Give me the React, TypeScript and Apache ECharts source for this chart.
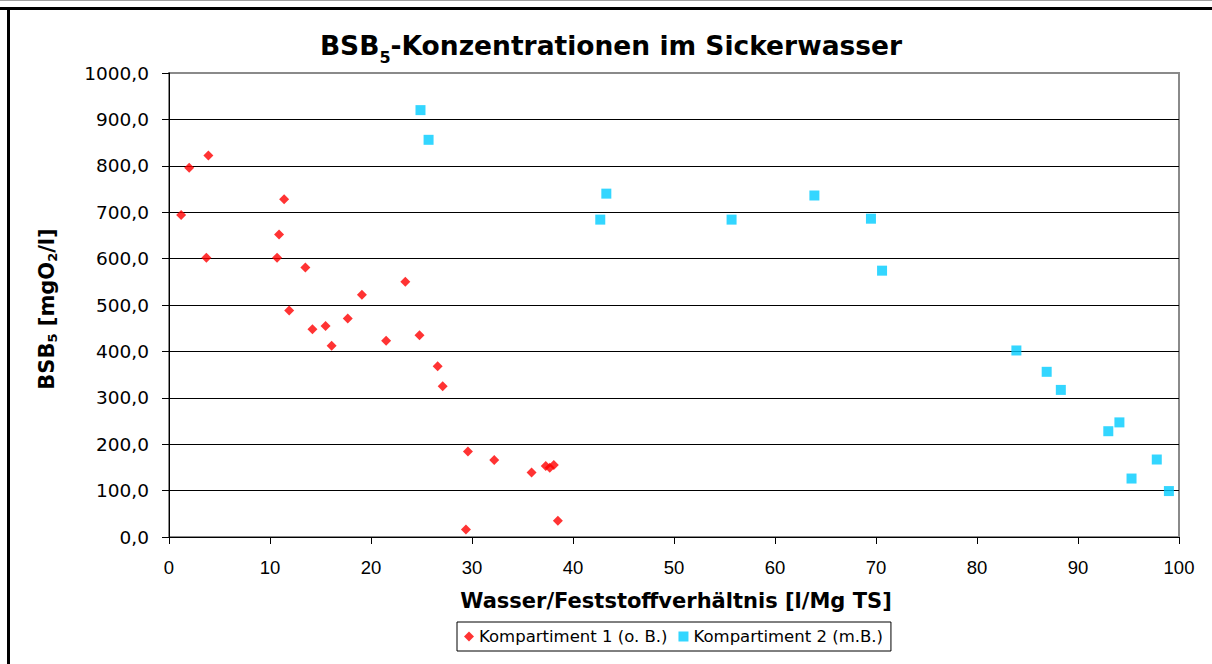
import React, { useEffect, useRef } from "react";
import * as echarts from "echarts";

// Kompartiment 1 (o. B.)
const k1X = [1.2, 2.0, 3.9, 3.7, 10.7, 10.9, 11.4, 11.9, 13.5, 14.2, 15.5, 16.1, 17.7, 19.1, 21.5, 23.4, 24.8, 26.6, 27.1, 29.6, 29.4, 32.2, 35.9, 37.3, 37.7, 38.1, 38.5];
const k1Y = [694, 796, 822, 602, 602, 652, 728, 488, 581, 448, 455, 412, 471, 522, 423, 550, 435, 368, 325, 184, 16, 166, 139, 153, 149, 155, 35];

// Kompartiment 2 (m.B.)
const k2X = [24.9, 25.7, 42.7, 43.3, 55.7, 63.9, 69.5, 70.6, 83.9, 86.9, 88.3, 93.0, 94.1, 95.3, 97.8, 99.0];
const k2Y = [920, 856, 684, 740, 684, 736, 686, 574, 402, 356, 317, 228, 247, 126, 167, 99];

const seriesNames = ["Kompartiment 1 (o. B.)", "Kompartiment 2 (m.B.)"];
const xTicks = { min: 0, max: 100, interval: 10 };
const yTicks = { min: 0, max: 1000, interval: 100 };

const DV = "'DejaVu Sans', sans-serif";
const LIB = "'Liberation Sans', Arial, sans-serif";

export default function App() {
  const ref = useRef<HTMLDivElement>(null);

  useEffect(() => {
    if (!ref.current) return;
    const chart = echarts.init(ref.current, null, { renderer: "svg" });

    const pts1 = k1X.map((x, i) => [x, k1Y[i]]);
    const pts2 = k2X.map((x, i) => [x, k2Y[i]]);

    const splitColors: string[] = [];
    for (let i = 0; i <= 10; i++) splitColors.push(i === 10 ? "#8a8a8a" : "#000000");

    chart.setOption({
      animation: false,
      backgroundColor: "#ffffff",
      grid: {
        left: 169,
        right: 33,
        top: 73,
        bottom: 127,
        show: true,
        borderColor: "#8a8a8a",
        borderWidth: 2,
        backgroundColor: "#ffffff",
      },
      xAxis: {
        type: "value",
        min: xTicks.min,
        max: xTicks.max,
        interval: xTicks.interval,
        axisLine: { show: true, onZero: false, lineStyle: { color: "#000", width: 1 } },
        axisTick: { show: true, inside: false, length: 7, lineStyle: { color: "#000" } },
        axisLabel: { color: "#000", fontFamily: LIB, fontSize: 18.5, margin: 21 },
        splitLine: { show: false },
      },
      yAxis: {
        type: "value",
        min: yTicks.min,
        max: yTicks.max,
        interval: yTicks.interval,
        axisLine: { show: true, lineStyle: { color: "#000", width: 1 } },
        axisTick: { show: true, inside: false, length: 7, lineStyle: { color: "#000" } },
        axisLabel: {
          color: "#000",
          fontFamily: DV,
          fontSize: 18.5,
          margin: 20,
          formatter: (v: number) => v.toFixed(1).replace(".", ","),
        },
        splitLine: { show: true, lineStyle: { color: splitColors, width: 1 } },
      },
      legend: {
        left: 457,
        top: 622,
        orient: "horizontal",
        padding: [6, 8, 6, 7],
        itemWidth: 10,
        itemHeight: 10,
        itemGap: 11,
        borderColor: "#000",
        borderWidth: 1,
        backgroundColor: "#fff",
        textStyle: { color: "#000", fontFamily: DV, fontSize: 16.5 },
        data: [
          { name: seriesNames[0], icon: "diamond" },
          { name: seriesNames[1], icon: "rect" },
        ],
      },
      series: [
        {
          name: seriesNames[0],
          type: "scatter",
          symbol: "diamond",
          symbolSize: 10,
          itemStyle: { color: "#ff0000" },
          data: pts1,
          z: 3,
        },
        {
          name: seriesNames[1],
          type: "scatter",
          symbol: "rect",
          symbolSize: 10,
          itemStyle: { color: "#00ccff" },
          data: pts2,
          z: 3,
        },
      ],
      graphic: [
        { type: "line", shape: { x1: 0, y1: 0.5, x2: 1212, y2: 0.5 }, style: { stroke: "#a0a0a0", lineWidth: 1 } },
        { type: "line", shape: { x1: 0, y1: 8.5, x2: 1212, y2: 8.5 }, style: { stroke: "#000", lineWidth: 3 } },
        { type: "line", shape: { x1: 8.5, y1: 7, x2: 8.5, y2: 664 }, style: { stroke: "#000", lineWidth: 3 } },
        {
          type: "text",
          x: 611,
          y: 45,
          style: {
            text: "{a|BSB}{s|5}{a|-Konzentrationen im Sickerwasser}",
            align: "center",
            verticalAlign: "middle",
            rich: {
              a: { fontFamily: DV, fontWeight: "bold", fontSize: 26.5, lineHeight: 40, fill: "#000" },
              s: { fontFamily: DV, fontWeight: "bold", fontSize: 16, lineHeight: 16, verticalAlign: "bottom", fill: "#000" },
            },
          },
        },
        {
          type: "text",
          x: 47,
          y: 309,
          rotation: Math.PI / 2,
          style: {
            text: "{a|BSB}{s|5}{a| [mgO}{s|2}{a|/l]}",
            align: "center",
            verticalAlign: "middle",
            rich: {
              a: { fontFamily: DV, fontWeight: "bold", fontSize: 21, lineHeight: 24, fill: "#000" },
              s: { fontFamily: DV, fontWeight: "bold", fontSize: 13, lineHeight: 13, verticalAlign: "bottom", fill: "#000" },
            },
          },
        },
        {
          type: "text",
          x: 676,
          y: 601,
          style: {
            text: "Wasser/Feststoffverhältnis [l/Mg TS]",
            align: "center",
            verticalAlign: "middle",
            fontFamily: DV,
            fontWeight: "bold",
            fontSize: 21,
            fill: "#000",
          },
        },
      ],
    });

    return () => {
      chart.dispose();
    };
  }, []);

  return (
    <div
      ref={ref}
      style={{ position: "fixed", left: 0, top: 0, width: 1212, height: 664, background: "#fff" }}
    />
  );
}
